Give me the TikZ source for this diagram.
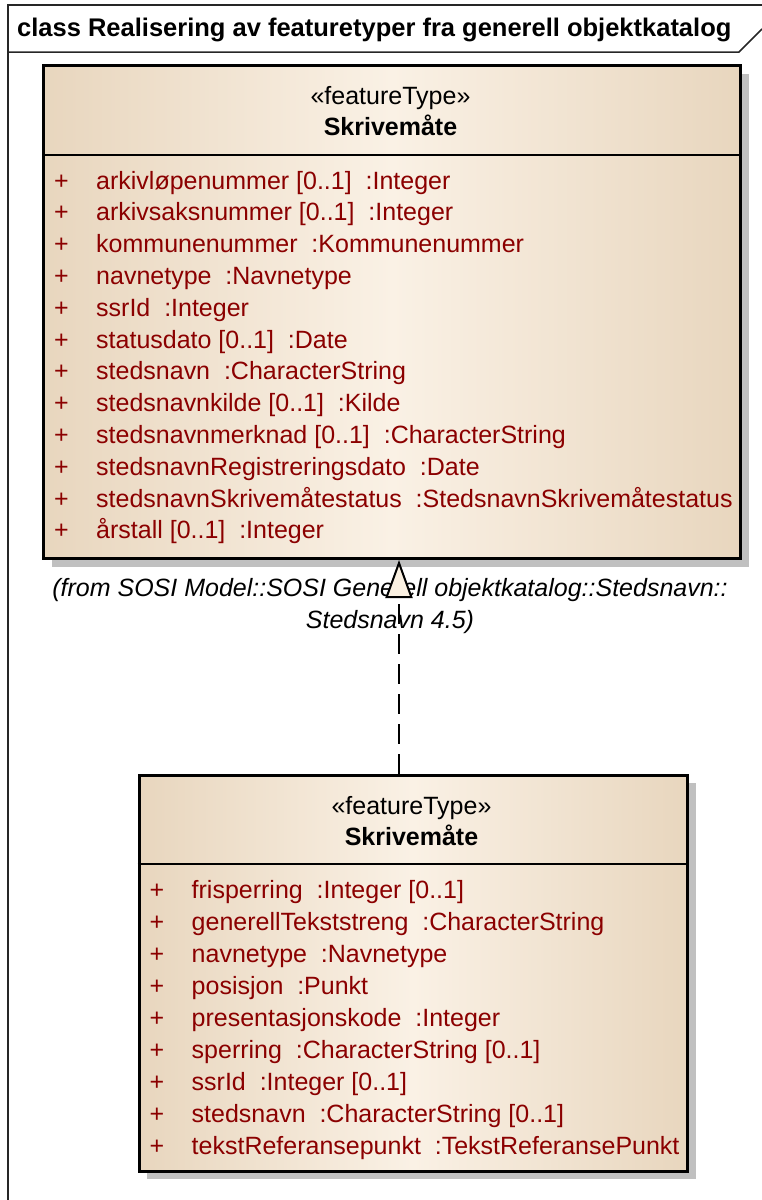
\documentclass[tikz,border=0pt]{standalone}
\usepackage{fontspec}
\setmainfont{Liberation Sans}
\usepackage{xcolor}
\usepackage{tikz}
\usetikzlibrary{positioning, arrows.meta, shadows}

\definecolor{klassekant}{RGB}{232,214,190}
\definecolor{klasselys}{RGB}{250,241,229}
\definecolor{attrrod}{RGB}{139,0,0}
\definecolor{skygge}{RGB}{192,192,192}
\definecolor{pilfyll}{RGB}{250,240,225}

\newcommand{\umlattr}[1]{\makebox[42pt][l]{+}#1}

\begin{document}
\begin{tikzpicture}[x=1pt, y=-1pt,
  klasse/.style={draw=black, line width=3pt, anchor=north west, inner sep=0pt,
                 left color=klassekant, right color=klassekant, middle color=klasselys,
                 drop shadow={shadow xshift=8pt, shadow yshift=-8pt, fill=skygge, opacity=1}},
  skille/.style={line width=2.5pt},
  tekst/.style={font=\fontsize{25}{31.8}\selectfont, inner sep=0pt, anchor=base},
  attr/.style={tekst, anchor=base west, align=left, text=attrrod},
  ramme/.style={line width=1.5pt, black!85},
  realiser/.style={line width=2pt, dash pattern=on 20pt off 10pt,
                   -{Triangle[length=38pt, width=27pt, fill=pilfyll]}}]
\useasboundingbox (0,0) rectangle (762,1200);
\draw[ramme] (8,1200) -- (8,5) -- (762,5);
\draw[ramme] (8,52) -- (739,52) -- (762,29);
\node[tekst, anchor=base west, font=\fontsize{25.5}{31.8}\selectfont\bfseries] (tittel) at (17,36)
  {class Realisering av featuretyper fra generell objektkatalog};
\node[klasse, minimum width=697pt, minimum height=493pt] (sosi) at (42,64) {};
\node[tekst] (sosiStereo) at (390.5,104) {«featureType»};
\node[tekst, font=\fontsize{25}{31.8}\selectfont\bfseries] (sosiNavn) at (390.5,135) {Skrivemåte};
\draw[skille] (sosi.west |- 0,155) -- (sosi.east |- 0,155);
% base = last line
\node[attr] (sosiAttr) at (54,538.8) {\umlattr{arkivløpenummer [0..1] \ :Integer}\\
  \umlattr{arkivsaksnummer [0..1] \ :Integer}\\
  \umlattr{kommunenummer \ :Kommunenummer}\\
  \umlattr{navnetype \ :Navnetype}\\
  \umlattr{ssrId \ :Integer}\\
  \umlattr{statusdato [0..1] \ :Date}\\
  \umlattr{stedsnavn \ :CharacterString}\\
  \umlattr{stedsnavnkilde [0..1] \ :Kilde}\\
  \umlattr{stedsnavnmerknad [0..1] \ :CharacterString}\\
  \umlattr{stedsnavnRegistreringsdato \ :Date}\\
  \umlattr{stedsnavnSkrivemåtestatus \ :StedsnavnSkrivemåtestatus}\\
  \umlattr{årstall [0..1] \ :Integer}};
\node[tekst, align=center, font=\fontsize{25}{32}\selectfont\itshape] (fra) at (390,628)
  {(from SOSI Model::SOSI Generell objektkatalog::Stedsnavn::\\Stedsnavn 4.5)};
\node[klasse, minimum width=548.5pt, minimum height=396pt] (skriv) at (137.5,773.5) {};
\node[tekst] (skrivStereo) at (411.5,814) {«featureType»};
\node[tekst, font=\fontsize{25}{31.8}\selectfont\bfseries] (skrivNavn) at (411.5,845) {Skrivemåte};
\draw[skille] (skriv.west |- 0,864) -- (skriv.east |- 0,864);
\node[attr, font=\fontsize{25}{32.1}\selectfont] (skrivAttr) at (149.5,1154.8) {\umlattr{frisperring \ :Integer [0..1]}\\
  \umlattr{generellTekststreng \ :CharacterString}\\
  \umlattr{navnetype \ :Navnetype}\\
  \umlattr{posisjon \ :Punkt}\\
  \umlattr{presentasjonskode \ :Integer}\\
  \umlattr{sperring \ :CharacterString [0..1]}\\
  \umlattr{ssrId \ :Integer [0..1]}\\
  \umlattr{stedsnavn \ :CharacterString [0..1]}\\
  \umlattr{tekstReferansepunkt \ :TekstReferansePunkt}};
\coordinate (knekk) at (399,0);
\draw[realiser] (skriv.north -| knekk) -- (sosi.south -| knekk);
\end{tikzpicture}
\end{document}
